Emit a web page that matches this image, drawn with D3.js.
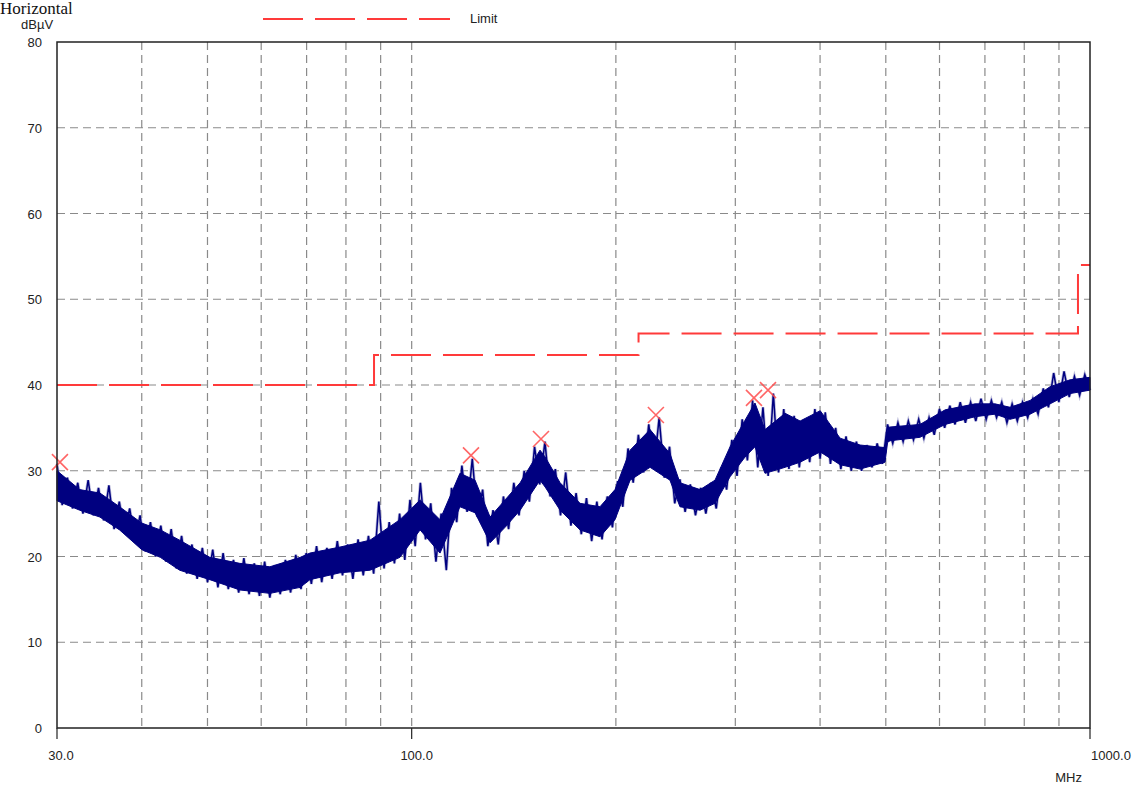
<!DOCTYPE html>
<html>
<head>
<meta charset="utf-8">
<script src="https://cdn.jsdelivr.net/npm/d3@7"></script>
<style>
  body { margin: 0; background: #fff; }
  svg { display: block; font-family: "Liberation Sans", Arial, sans-serif; }
  .tick-label { font-size: 13px; fill: #222; }
</style>
</head>
<body>
<svg width="1138" height="786"></svg>
<script>
// Sweep definition (MHz) and measured trace (dBµV), one value per sweep point
const sweepStart = 30, sweepStop = 1000;
const traceLevel = [
  30.8, 26.0, 29.2, 25.6, 28.6, 25.0, 28.9, 24.8, 28.0, 24.2,
  28.3, 23.2, 26.4, 22.8, 25.6, 21.8, 24.8, 20.6, 24.0, 20.0,
  23.6, 19.4, 23.2, 18.6, 22.4, 18.0, 21.4, 17.4, 21.0, 17.0,
  20.8, 16.4, 20.4, 16.2, 19.6, 15.8, 19.8, 15.6, 19.2, 15.4,
  19.4, 15.2, 19.0, 15.6, 19.6, 15.8, 20.2, 16.2, 20.4, 16.8,
  21.2, 17.0, 21.0, 17.4, 21.8, 17.8, 21.4, 17.4, 22.0, 17.8,
  22.4, 18.0, 26.4, 18.6, 24.0, 19.2, 25.0, 19.6, 26.6, 21.2,
  28.6, 22.0, 26.2, 19.4, 25.0, 18.4, 28.0, 24.0, 30.6, 25.2,
  31.4, 24.6, 27.8, 21.2, 25.4, 21.4, 27.0, 23.2, 28.6, 24.8,
  30.0, 26.4, 32.8, 28.4, 33.4, 27.0, 30.2, 24.8, 29.8, 23.6,
  27.4, 22.6, 26.8, 21.8, 26.4, 22.0, 27.0, 23.4, 28.8, 25.8,
  32.6, 28.6, 34.2, 29.8, 35.4, 30.2, 36.2, 29.2, 32.8, 26.2,
  29.0, 25.2, 28.4, 24.8, 28.0, 25.0, 28.6, 25.6, 30.4, 27.8,
  33.6, 29.4, 36.0, 31.2, 38.2, 30.4, 37.4, 29.4, 39.0, 29.8,
  37.2, 30.2, 36.4, 30.4, 36.0, 31.0, 37.2, 31.4, 36.8, 30.8,
  35.0, 30.2, 34.0, 30.0, 33.4, 30.0, 33.0, 30.4, 33.2, 30.8,
  35.4, 33.2, 35.6, 33.4, 35.8, 33.6, 36.0, 33.8, 36.2, 34.2,
  37.2, 35.0, 37.6, 35.4, 38.0, 35.6, 38.0, 35.8, 38.4, 36.0,
  38.2, 36.2, 38.0, 35.6, 37.8, 35.8, 38.0, 36.2, 38.4, 36.6,
  39.6, 37.4, 41.4, 38.0, 41.6, 38.6, 41.0, 38.8, 41.2, 39.4
];

// Dense core of the trace (envelope)
const bandFreq = [30.0, 32.4, 34.7, 37.1, 40.0, 42.6, 45.5, 50.4, 55.8, 61.8, 68.5, 70.8, 78.4, 86.8, 96.1,
  102.9, 110.1, 117.8, 124.0, 130.5, 137.3, 144.5, 154.6, 157.3, 165.5, 177.1, 189.5, 199.4, 209.9, 224.6,
  240.3, 248.6, 266.2, 280.0, 294.7, 310.1, 320.7, 331.8, 355.2, 373.8, 400.2, 428.2, 458.2, 498.7, 503.0,
  507.2, 561.5, 611.5, 676.9, 724.5, 762.4, 816.0, 873.2, 934.3, 1000.0];
const bandLow = [26.5, 25.4, 24.6, 23.1, 20.8, 19.9, 18.4, 17.3, 16.1, 15.7, 16.4, 17.3, 18.1, 18.4, 19.9,
  23.1, 20.4, 25.8, 25.1, 21.6, 23.4, 25.4, 28.9, 28.1, 25.4, 23.1, 22.3, 24.3, 28.9, 30.4,
  28.9, 25.8, 25.4, 26.2, 29.3, 31.6, 32.8, 29.7, 30.4, 31.0, 32.2, 30.7, 30.2, 31.0, 33.3,
  33.5, 33.9, 35.4, 36.3, 36.6, 36.0, 36.6, 37.8, 39.0, 39.4];
const bandHigh = [30.0, 27.8, 27.4, 25.8, 23.9, 23.1, 21.9, 19.9, 19.2, 18.8, 19.9, 20.4, 21.1, 21.9, 24.3,
  26.6, 24.3, 29.7, 28.9, 24.6, 26.6, 28.6, 32.4, 31.6, 28.6, 26.2, 25.8, 27.8, 32.4, 34.8,
  32.0, 28.6, 27.8, 28.9, 32.8, 35.9, 37.9, 34.8, 36.7, 35.8, 37.0, 33.8, 33.0, 32.7, 35.0,
  35.1, 35.4, 37.1, 37.8, 37.8, 37.4, 38.2, 39.8, 40.6, 40.9];

// Limit line (FCC class B, 3 m)
const limitFreq = [30, 88, 88, 216, 216, 960, 960, 1000];
const limitLevel = [40, 40, 43.5, 43.5, 46, 46, 54, 54];

// Peak markers
const peakFreq = [30.3, 122.3, 155.1, 229.1, 319.6, 335.2];
const peakLevel = [31.0, 31.8, 33.7, 36.5, 38.5, 39.4];

// Axis ticks
const yTicks = [0, 10, 20, 30, 40, 50, 60, 70, 80];
const xGrid = [40, 50, 60, 70, 80, 90, 100, 200, 300, 400, 500, 600, 700, 800, 900];
const xLabels = [30, 100, 1000];

const margin = {top: 42, right: 48, bottom: 58, left: 57},
      width = 1138 - margin.left - margin.right,
      height = 786 - margin.top - margin.bottom;

const svg = d3.select("svg");
const g = svg.append("g")
    .attr("transform", "translate(" + margin.left + "," + margin.top + ")");

// Scales
const xScale = d3.scaleLog().domain([sweepStart, sweepStop]).range([0, width]);
const yScale = d3.scaleLinear().domain([0, 80]).range([height, 0]);

// Grid
g.append("g").selectAll("line")
    .data(xGrid)
    .enter().append("line")
    .attr("x1", d => xScale(d)).attr("x2", d => xScale(d))
    .attr("y1", 0).attr("y2", height)
    .attr("stroke", "#8a8a8a").attr("stroke-width", 1.2)
    .attr("stroke-dasharray", "8,5");
g.append("g").selectAll("line")
    .data(yTicks.filter(d => d > 0 && d < 80))
    .enter().append("line")
    .attr("x1", 0).attr("x2", width)
    .attr("y1", d => yScale(d)).attr("y2", d => yScale(d))
    .attr("stroke", "#8a8a8a").attr("stroke-width", 1.2)
    .attr("stroke-dasharray", "8,5");

// Limit
const limitLine = d3.line()
    .x((d, i) => xScale(limitFreq[i]))
    .y((d, i) => yScale(limitLevel[i]));
g.append("path")
    .attr("d", limitLine(limitFreq))
    .attr("fill", "none")
    .attr("stroke", "#ff3a3a")
    .attr("stroke-width", 2)
    .attr("stroke-dasharray", "40,12");

// Trace: soft halo underneath, then dense core, then spikes
const n = traceLevel.length;
const traceFreq = traceLevel.map((d, i) => sweepStart * Math.pow(sweepStop / sweepStart, i / (n - 1)));
const trace = d3.line()
    .x((d, i) => xScale(traceFreq[i]))
    .y(d => yScale(d));
g.append("path")
    .attr("d", trace(traceLevel))
    .attr("fill", "none")
    .attr("stroke", "#8a8abf")
    .attr("stroke-opacity", 0.6)
    .attr("stroke-width", 3);

const band = d3.area()
    .x((d, i) => xScale(bandFreq[i]))
    .y0((d, i) => yScale(bandLow[i]))
    .y1((d, i) => yScale(bandHigh[i]));
g.append("path")
    .attr("d", band(bandFreq))
    .attr("fill", "#000080")
    .attr("stroke", "#000080")
    .attr("stroke-width", 1);

g.append("path")
    .attr("d", trace(traceLevel))
    .attr("fill", "none")
    .attr("stroke", "#000080")
    .attr("stroke-width", 1.5);

// Peak markers
g.append("g").selectAll("path")
    .data(peakFreq)
    .enter().append("path")
    .attr("transform", (d, i) => "translate(" + xScale(d) + "," + yScale(peakLevel[i]) + ")")
    .attr("d", "M-8,-8L8,8M-8,8L8,-8")
    .attr("stroke", "#ff4a4a")
    .attr("stroke-opacity", 0.85)
    .attr("stroke-width", 1.6);

// Frame
g.append("rect")
    .attr("width", width).attr("height", height)
    .attr("fill", "none").attr("stroke", "#222").attr("stroke-width", 1.5);

// X axis major ticks + labels
g.append("g").selectAll("line")
    .data(xLabels)
    .enter().append("line")
    .attr("x1", d => xScale(d)).attr("x2", d => xScale(d))
    .attr("y1", height).attr("y2", height + 11)
    .attr("stroke", "#222").attr("stroke-width", 1.2);
const xLabelShift = [4, 5, 21];
g.append("g").selectAll("text")
    .data(xLabels)
    .enter().append("text")
    .attr("class", "tick-label")
    .attr("x", (d, i) => xScale(d) + xLabelShift[i])
    .attr("y", height + 32)
    .attr("text-anchor", "middle")
    .text(d => d3.format(".1f")(d));
g.append("text")
    .attr("class", "tick-label")
    .attr("x", width - 8).attr("y", height + 54)
    .attr("text-anchor", "end")
    .text("MHz");

// Y axis labels
g.append("g").selectAll("text")
    .data(yTicks)
    .enter().append("text")
    .attr("class", "tick-label")
    .attr("x", -15).attr("y", d => yScale(d) + 5)
    .attr("text-anchor", "end")
    .text(d => d);
svg.append("text")
    .attr("class", "tick-label")
    .attr("x", 21).attr("y", 29)
    .text("dBµV");

// Title
svg.append("text")
    .attr("x", 0).attr("y", 14)
    .style("font-family", "'Liberation Serif', 'Times New Roman', serif")
    .style("font-size", "17px")
    .attr("fill", "#111")
    .text("Horizontal");

// Legend
svg.append("line")
    .attr("x1", 263).attr("x2", 450)
    .attr("y1", 19).attr("y2", 19)
    .attr("stroke", "#ff3a3a").attr("stroke-width", 2)
    .attr("stroke-dasharray", "40,12");
svg.append("text")
    .attr("class", "tick-label")
    .attr("x", 470).attr("y", 23)
    .text("Limit");
</script>
</body>
</html>
